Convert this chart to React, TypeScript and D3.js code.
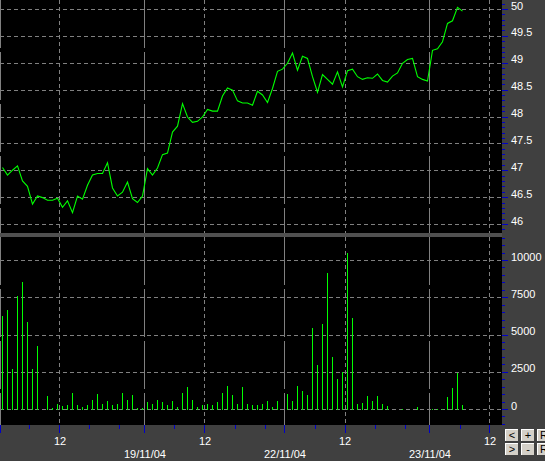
import React from 'react';
import * as d3 from 'd3';

// ---- data (one entry per 5-px time slot) ----
const price = [
  47.06, 46.92, 47.01, 47.09, 46.81, 46.71, 46.38, 46.53, 46.5, 46.45,
  46.45, 46.49, 46.32, 46.44, 46.22, 46.53, 46.47, 46.73, 46.92, 46.95,
  46.95, 47.15, 46.68, 46.53, 46.6, 46.79, 46.48, 46.41, 46.53, 47.04,
  46.92, 47.05, 47.3, 47.33, 47.72, 47.83, 48.25, 48.0, 47.9, 47.92,
  48.0, 48.14, 48.11, 48.11, 48.39, 48.54, 48.5, 48.3, 48.26, 48.26,
  48.22, 48.48, 48.41, 48.27, 48.53, 48.85, 48.89, 49.0, 49.19, 48.87,
  49.13, 49.09, 48.75, 48.46, 48.79, 48.7, 48.61, 48.84, 48.56, 48.86,
  48.89, 48.75, 48.7, 48.73, 48.72, 48.8, 48.68, 48.65, 48.76, 48.82,
  49.0, 49.07, 49.09, 48.75, 48.7, 48.67, 49.24, 49.27, 49.4, 49.74,
  49.79, 50.04, 49.97,
];
const volume = [
  6300, 6700, 2700, 7650, 8550, 5850, 2700, 4250, 0, 900,
  70, 400, 220, 270, 1080, 270, 200, 270, 670, 1010,
  400, 600, 270, 400, 1080, 670, 940, 70, 70, 470,
  400, 670, 470, 270, 600, 140, 1080, 1480, 670, 200,
  270, 340, 270, 470, 1080, 1610, 940, 340, 1480, 400,
  270, 270, 400, 540, 200, 540, 0, 1010, 540, 1550,
  1210, 940, 5450, 2960, 5720, 9150, 3500, 2020, 2490, 10490,
  6120, 340, 460, 880, 600, 880, 400, 210, 0, 0,
  67, 0, 0, 140, 0, 0, 67, 40, 67, 806,
  1410, 2420, 269,
];
const dayStarts = [0, 29, 57, 86];
const noonSlots = [12, 41, 69, 98];
const minorTimeSlots = [6, 18, 24, 35, 47, 53, 63, 75, 81, 92];
const dateLabelSlots = [29, 57, 86];
const dateLabels = ['19/11/04', '22/11/04', '23/11/04'];
const noonLabel = '12';
const priceTicks = [46, 46.5, 47, 47.5, 48, 48.5, 49, 49.5, 50];
const volumeTicks = [0, 2500, 5000, 7500, 10000];
const buttonLabels = [['<', '+', 'R'], ['>', '-', 'R']];

// ---- layout ----
const W = 545;
const H = 461;
const plotRight = 502;
const priceTop = 0;
const priceBottom = 233;
const volTop = 237;
const volBottom = 425;
const panelColor = '#404040';
const gridColor = '#808080';
const tickColor = '#0000c8';
const font = '"Liberation Sans", Arial, sans-serif';

const x = d3.scaleLinear().domain([0, 100.4]).range([0, plotRight]);
const yP = d3.scaleLinear().domain([46, 50]).range([224.5, 9.5]);
const yV = d3.scaleLinear().domain([0, 10000]).range([409.5, 260.5]);

const crisp = (v: number) => Math.floor(v) + 0.5;

export default function App() {
  const line = d3
    .line<number>()
    .x((_, i) => x(i + 0.5))
    .y((d) => yP(d));

  const priceMinor = d3.range(459, 502).map((v) => v / 10).filter((v) => {
    const yy = yP(v);
    return yy >= priceTop && yy <= priceBottom;
  });
  const volMinor = d3.range(-1000, 12000, 500).filter((v) => {
    const yy = yV(v);
    return yy >= volTop && yy <= volBottom;
  });

  const vLines = (top: number, bottom: number, key: string) => (
    <g key={key}>
      {dayStarts.map((s) => (
        <line key={'d' + s} x1={crisp(x(s))} x2={crisp(x(s))} y1={top} y2={bottom}
          stroke={gridColor} strokeDasharray="48,4" shapeRendering="crispEdges" />
      ))}
      {noonSlots.map((s) => (
        <line key={'n' + s} x1={crisp(x(s))} x2={crisp(x(s))} y1={top} y2={bottom}
          stroke={gridColor} strokeDasharray="4,3" shapeRendering="crispEdges" />
      ))}
    </g>
  );

  return (
    <svg width={W} height={H} style={{ position: 'absolute', left: 0, top: 0, display: 'block' }}
      fontFamily={font}>
      <rect x={0} y={0} width={W} height={H} fill={panelColor} />
      {/* price panel */}
      <rect x={0} y={priceTop} width={plotRight} height={priceBottom - priceTop} fill="#000" />
      {/* volume panel */}
      <rect x={0} y={volTop} width={plotRight} height={volBottom - volTop} fill="#000" />
      {/* separator */}
      <rect x={0} y={priceBottom} width={plotRight} height={volTop - priceBottom} fill="#505050" />

      {/* horizontal grids */}
      {priceTicks.map((t) => (
        <line key={'pg' + t} x1={0} x2={plotRight} y1={crisp(yP(t))} y2={crisp(yP(t))}
          stroke={gridColor} strokeDasharray="4,3" shapeRendering="crispEdges" />
      ))}
      {volumeTicks.map((t) => (
        <line key={'vg' + t} x1={0} x2={plotRight} y1={crisp(yV(t))} y2={crisp(yV(t))}
          stroke={gridColor} strokeDasharray="4,3" shapeRendering="crispEdges" />
      ))}
      {vLines(priceTop, priceBottom, 'vp')}
      {vLines(volTop, volBottom, 'vv')}

      {/* volume bars */}
      {volume.map((v, i) =>
        v > 0 ? (
          <line key={'b' + i} x1={crisp(x(i + 0.5))} x2={crisp(x(i + 0.5))}
            y1={Math.round(yV(0))} y2={Math.round(yV(v))}
            stroke="#00ff00" shapeRendering="crispEdges" />
        ) : null
      )}

      {/* price line */}
      <path d={line(price) || ''} fill="none" stroke="#00ff00" strokeWidth={1.1} />

      {/* right axis ticks & labels */}
      {priceMinor.map((t) => (
        <line key={'pm' + t} x1={plotRight} x2={plotRight + 3} y1={crisp(yP(t))} y2={crisp(yP(t))}
          stroke={tickColor} shapeRendering="crispEdges" />
      ))}
      {priceTicks.map((t) => (
        <g key={'pt' + t}>
          <line x1={plotRight} x2={plotRight + 6} y1={crisp(yP(t))} y2={crisp(yP(t))}
            stroke={tickColor} shapeRendering="crispEdges" />
          <text x={511} y={yP(t)} fill="#fff" fontSize={11}>{String(t)}</text>
        </g>
      ))}
      {volMinor.map((t) => (
        <line key={'vm' + t} x1={plotRight} x2={plotRight + 3} y1={crisp(yV(t))} y2={crisp(yV(t))}
          stroke={tickColor} shapeRendering="crispEdges" />
      ))}
      {volumeTicks.map((t) => (
        <g key={'vt' + t}>
          <line x1={plotRight} x2={plotRight + 6} y1={crisp(yV(t))} y2={crisp(yV(t))}
            stroke={tickColor} shapeRendering="crispEdges" />
          <text x={511} y={yV(t)} fill="#fff" fontSize={11}>{String(t)}</text>
        </g>
      ))}

      {/* bottom axis */}
      {minorTimeSlots.map((s) => (
        <line key={'tm' + s} x1={crisp(x(s))} x2={crisp(x(s))} y1={volBottom} y2={volBottom + 4}
          stroke={tickColor} shapeRendering="crispEdges" />
      ))}
      {[...dayStarts, ...noonSlots].map((s) => (
        <line key={'tM' + s} x1={crisp(x(s))} x2={crisp(x(s))} y1={volBottom} y2={volBottom + 8}
          stroke={tickColor} shapeRendering="crispEdges" />
      ))}
      {noonSlots.map((s) => (
        <text key={'nl' + s} x={x(s)} y={445} fill="#fff" fontSize={11} textAnchor="middle">{noonLabel}</text>
      ))}
      {dateLabelSlots.map((s, i) => (
        <text key={'dl' + s} x={x(s)} y={458} fill="#fff" fontSize={11} textAnchor="middle">{dateLabels[i]}</text>
      ))}

      {/* buttons */}
      {buttonLabels.map((row, r) =>
        row.map((lab, c) => {
          const bx = 505 + c * 16;
          const by = r === 0 ? 429 : 443;
          const bw = 14;
          const bh = 13;
          return (
            <g key={'btn' + r + c} shapeRendering="crispEdges">
              <rect x={bx} y={by} width={bw} height={bh} fill="#d4d0c8" />
              <line x1={bx + 0.5} x2={bx + 0.5} y1={by} y2={by + bh} stroke="#ffffff" />
              <line x1={bx} x2={bx + bw} y1={by + 0.5} y2={by + 0.5} stroke="#ffffff" />
              <line x1={bx + bw - 0.5} x2={bx + bw - 0.5} y1={by} y2={by + bh} stroke="#404040" />
              <line x1={bx} x2={bx + bw} y1={by + bh - 0.5} y2={by + bh - 0.5} stroke="#404040" />
              <text x={bx + bw / 2} y={by + 10} fontSize={11} fill="#000" textAnchor="middle"
                shapeRendering="auto">{lab}</text>
            </g>
          );
        })
      )}
    </svg>
  );
}
